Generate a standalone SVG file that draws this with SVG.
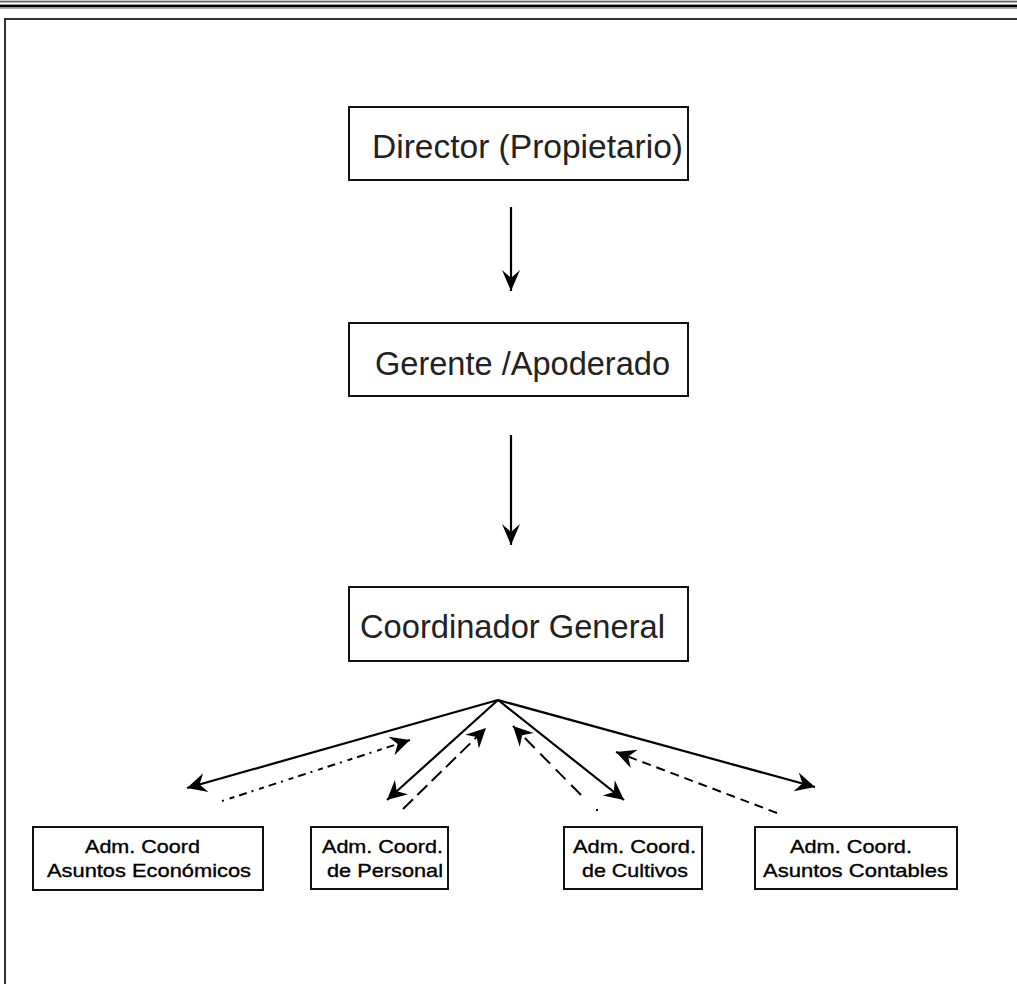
<svg xmlns="http://www.w3.org/2000/svg" width="1017" height="984" viewBox="0 0 1017 984">
<style>
.box{fill:#fff;stroke:#111;stroke-width:2}
.big{font-family:"Liberation Sans",Arial,sans-serif;font-size:33px;fill:#222}
.small{font-family:"Liberation Sans",Arial,sans-serif;font-size:19px;fill:#000;stroke:#000;stroke-width:0.35}
.conn{fill:none;stroke:#000;stroke-width:2.2}
.dash{fill:none;stroke:#000;stroke-width:2}
</style>
<defs>
<marker id="ah" markerUnits="userSpaceOnUse" markerWidth="26" markerHeight="26" viewBox="-22 -11 24 22" refX="0" refY="0" orient="auto">
<path d="M0,0 L-18,-9 L-12,0 L-18,9 Z" fill="#000"/>
</marker>
<marker id="av" markerUnits="userSpaceOnUse" markerWidth="26" markerHeight="26" viewBox="-24 -12 26 24" refX="0" refY="0" orient="auto">
<path d="M0,0 L-21,-9 L-13,0 L-21,9 Z" fill="#000"/>
</marker>
</defs>
<rect width="1017" height="984" fill="#fff"/>
<g id="frame">
<rect x="0" y="0" width="1017" height="1" fill="#ccc"/>
<rect x="0" y="1" width="1017" height="1.5" fill="#666"/>
<rect x="0" y="4" width="1017" height="1" fill="#999"/>
<rect x="0" y="5" width="1017" height="2.5" fill="#000"/>
<rect x="0" y="7.5" width="1017" height="1.5" fill="#aaa"/>
<path d="M5,984 V19 H1017" fill="none" stroke="#333" stroke-width="2"/>
</g>
<g id="director">
<rect class="box" x="349" y="107" width="339" height="73"/>
<text class="big" x="372" y="158" textLength="311" lengthAdjust="spacingAndGlyphs">Director (Propietario)</text>
</g>
<g id="gerente">
<rect class="box" x="349" y="323" width="339" height="73"/>
<text class="big" x="375" y="375" textLength="295" lengthAdjust="spacingAndGlyphs">Gerente /Apoderado</text>
</g>
<g id="coordinador">
<rect class="box" x="349" y="587" width="339" height="74"/>
<text class="big" x="360" y="638" textLength="305" lengthAdjust="spacingAndGlyphs">Coordinador General</text>
</g>
<g id="economicos">
<rect class="box" x="33" y="827" width="230" height="63"/>
<text class="small" x="85" y="853" textLength="115" lengthAdjust="spacingAndGlyphs">Adm. Coord</text>
<text class="small" x="47" y="877" textLength="204" lengthAdjust="spacingAndGlyphs">Asuntos Económicos</text>
</g>
<g id="personal">
<rect class="box" x="311" y="827" width="137" height="62"/>
<text class="small" x="322" y="853" textLength="121" lengthAdjust="spacingAndGlyphs">Adm. Coord.</text>
<text class="small" x="327" y="877" textLength="116" lengthAdjust="spacingAndGlyphs">de Personal</text>
</g>
<g id="cultivos">
<rect class="box" x="564" y="827" width="138" height="62"/>
<text class="small" x="573" y="853" textLength="123" lengthAdjust="spacingAndGlyphs">Adm. Coord.</text>
<text class="small" x="582" y="877" textLength="106" lengthAdjust="spacingAndGlyphs">de Cultivos</text>
</g>
<g id="contables">
<rect class="box" x="755" y="827" width="202" height="62"/>
<text class="small" x="790" y="853" textLength="122" lengthAdjust="spacingAndGlyphs">Adm. Coord.</text>
<text class="small" x="763" y="877" textLength="185" lengthAdjust="spacingAndGlyphs">Asuntos Contables</text>
</g>
<g id="connectors">
<line class="conn" x1="511" y1="207" x2="511" y2="291" marker-end="url(#av)"/>
<line class="conn" x1="511" y1="435" x2="511" y2="545" marker-end="url(#av)"/>
<line class="conn" x1="498" y1="700" x2="187" y2="788" marker-end="url(#ah)"/>
<line class="conn" x1="498" y1="700" x2="387" y2="800" marker-end="url(#ah)"/>
<line class="conn" x1="498" y1="700" x2="624" y2="800" marker-end="url(#ah)"/>
<line class="conn" x1="498" y1="700" x2="815" y2="787" marker-end="url(#ah)"/>
<line class="dash" x1="222" y1="801" x2="410" y2="740" stroke-dasharray="2,6,5,5,8,5" marker-end="url(#ah)"/>
<line class="dash" x1="403" y1="809" x2="486" y2="728" stroke-dasharray="14,6" marker-end="url(#ah)"/>
<line class="dash" x1="581" y1="795" x2="513" y2="726" stroke-dasharray="14,8" marker-end="url(#ah)"/>
<rect x="596" y="809" width="2" height="2" fill="#000"/>
<line class="dash" x1="777" y1="813" x2="616" y2="752" stroke-dasharray="9,6" marker-end="url(#ah)"/>
</g>
</svg>
